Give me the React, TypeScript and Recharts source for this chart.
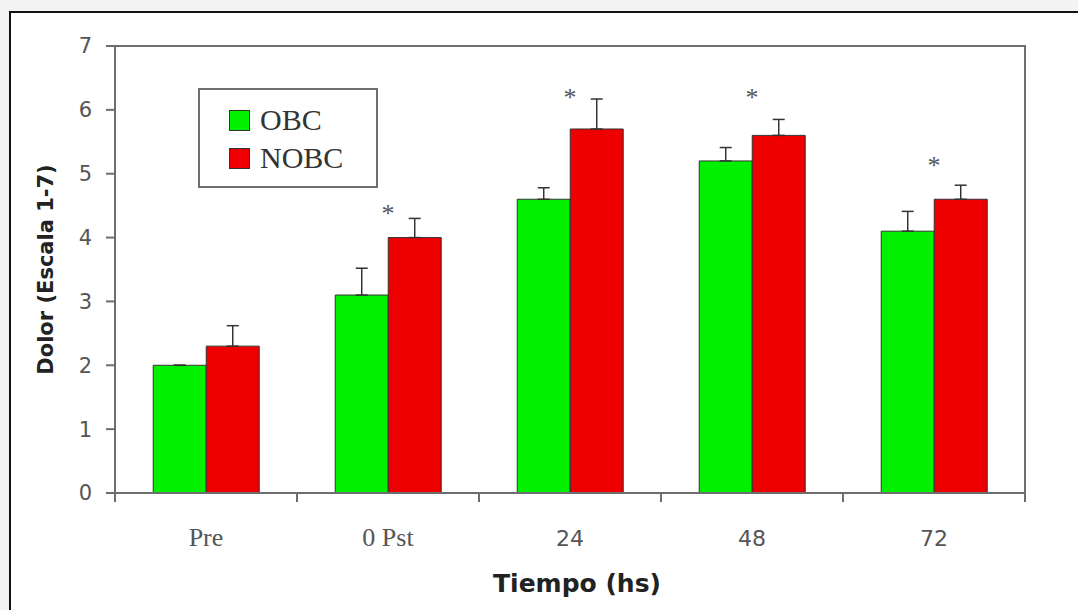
import React from 'react';
import { ComposedChart, Bar, XAxis, YAxis, ErrorBar, Scatter, Legend, ReferenceArea } from 'recharts';

// Dolor (escala 1-7) por tiempo
const categories = ['Pre', '0 Pst', '24', '48', '72'];
const obc = [2.0, 3.1, 4.6, 5.2, 4.1];
const nobc = [2.3, 4.0, 5.7, 5.6, 4.6];
const obcErr = [0, 0.42, 0.18, 0.21, 0.31];
const nobcErr = [0.32, 0.3, 0.47, 0.25, 0.22];
// posición de los asteriscos (diferencia significativa)
const asterisk = [null, 4.45, 6.27, 6.27, 5.2];
const yTicks = [0, 1, 2, 3, 4, 5, 6, 7];

const GREEN = '#00f000';
const RED = '#ee0000';
const AXIS = '#6e6e6e';

const chartData = categories.map((cat, i) => ({
  cat,
  obc: obc[i],
  nobc: nobc[i],
  obcErr: [0, obcErr[i]],
  nobcErr: [0, nobcErr[i]],
  sig: asterisk[i],
}));

function CategoryTick(props: any) {
  const { x, y, payload, index, visibleTicksCount } = props;
  const half = payload.offset ?? 0;
  const numeric = /^\d+$/.test(payload.value);
  const last = index === (visibleTicksCount ?? categories.length) - 1;
  return (
    <g>
      <line x1={x - half} x2={x - half} y1={y} y2={y + 9} stroke={AXIS} strokeWidth={2} />
      {last && <line x1={x + half} x2={x + half} y1={y} y2={y + 9} stroke={AXIS} strokeWidth={2} />}
      <text
        x={x}
        y={y + 53}
        textAnchor="middle"
        fill="#555"
        fontSize={numeric ? 22 : 26}
        fontFamily={numeric ? 'DejaVu Sans, sans-serif' : 'Liberation Serif, serif'}
      >
        {payload.value}
      </text>
    </g>
  );
}

function AsteriskShape(props: any) {
  const { cx, cy } = props;
  if (cx == null || cy == null || isNaN(cy)) return null;
  return (
    <text x={cx} y={cy + 13} textAnchor="middle" fill="#555" fontSize={26} fontFamily="Liberation Serif, serif">
      *
    </text>
  );
}

function LegendBox() {
  const items = [
    { label: 'OBC', color: GREEN },
    { label: 'NOBC', color: RED },
  ];
  return (
    <div
      style={{
        width: 180,
        height: 100,
        border: `2px solid ${AXIS}`,
        background: '#fff',
        boxSizing: 'border-box',
        paddingTop: 11,
        paddingLeft: 29,
      }}
    >
      {items.map((it) => (
        <div key={it.label} style={{ display: 'flex', alignItems: 'center', height: 38 }}>
          <span
            style={{
              display: 'inline-block',
              width: 19,
              height: 19,
              background: it.color,
              border: '1px solid #333',
              marginRight: 10,
            }}
          />
          <span style={{ fontFamily: 'Liberation Serif, serif', fontSize: 30, color: '#333', lineHeight: 1 }}>
            {it.label}
          </span>
        </div>
      ))}
    </div>
  );
}

export default function App() {
  return (
    <div
      style={{
        position: 'absolute',
        top: 0,
        left: 0,
        width: 1078,
        height: 610,
        background: '#f3f3f3',
        overflow: 'hidden',
      }}
    >
      <div
        style={{
          position: 'absolute',
          left: 9,
          top: 11,
          width: 1100,
          height: 640,
          border: '2px solid #111',
          background: '#fff',
        }}
      />
      <div style={{ position: 'absolute', left: 0, top: 0 }}>
        <ComposedChart
          width={1078}
          height={610}
          data={chartData}
          margin={{ top: 46, right: 53, left: 0, bottom: 0 }}
          barCategoryGap="21%"
          barGap={0}
        >
          <XAxis
            dataKey="cat"
            height={117}
            tickLine={false}
            tickSize={0}
            tickMargin={0}
            axisLine={{ stroke: AXIS, strokeWidth: 2 }}
            tick={<CategoryTick />}
            interval={0}
            label={{
              content: (p: any) => {
                const vb = p.viewBox || {};
                return (
                  <text
                    x={vb.x + vb.width / 2 + 7}
                    y={vb.y + 99}
                    textAnchor="middle"
                    fontFamily="DejaVu Sans, sans-serif"
                    fontWeight="bold"
                    fontSize={25}
                    fill="#222"
                  >
                    Tiempo (hs)
                  </text>
                );
              },
            }}
          />
          <YAxis
            width={115}
            domain={[0, 7]}
            ticks={yTicks}
            tickSize={9}
            tickMargin={14}
            tickLine={{ stroke: AXIS, strokeWidth: 2 }}
            axisLine={{ stroke: AXIS, strokeWidth: 2 }}
            tick={{ fill: '#555', fontSize: 21, fontFamily: 'DejaVu Sans, sans-serif' }}
            label={{
              content: (p: any) => {
                const vb = p.viewBox || {};
                const cx = vb.x + 46;
                const cy = vb.y + vb.height / 2;
                return (
                  <text
                    x={cx}
                    y={cy}
                    transform={`rotate(-90 ${cx} ${cy})`}
                    textAnchor="middle"
                    dominantBaseline="central"
                    fontFamily="DejaVu Sans, sans-serif"
                    fontWeight="bold"
                    fontSize={21}
                    fill="#222"
                  >
                    Dolor (Escala 1-7)
                  </text>
                );
              },
            }}
          />
          <ReferenceArea y1={0} y2={7} fill="none" stroke={AXIS} strokeWidth={2} />
          <Legend
            layout="vertical"
            align="center"
            verticalAlign="middle"
            content={<LegendBox />}
            wrapperStyle={{ position: 'absolute', left: 198, top: 88, width: 180, height: 100 }}
          />
          <Bar dataKey="obc" name="OBC" fill={GREEN} stroke="#333" strokeWidth={1} isAnimationActive={false}>
            <ErrorBar dataKey="obcErr" direction="y" width={6} stroke="#333" strokeWidth={1.5} />
          </Bar>
          <Bar dataKey="nobc" name="NOBC" fill={RED} stroke="#333" strokeWidth={1} isAnimationActive={false}>
            <ErrorBar dataKey="nobcErr" direction="y" width={6} stroke="#333" strokeWidth={1.5} />
          </Bar>
          <Scatter dataKey="sig" shape={<AsteriskShape />} legendType="none" isAnimationActive={false} />
        </ComposedChart>
      </div>
    </div>
  );
}
